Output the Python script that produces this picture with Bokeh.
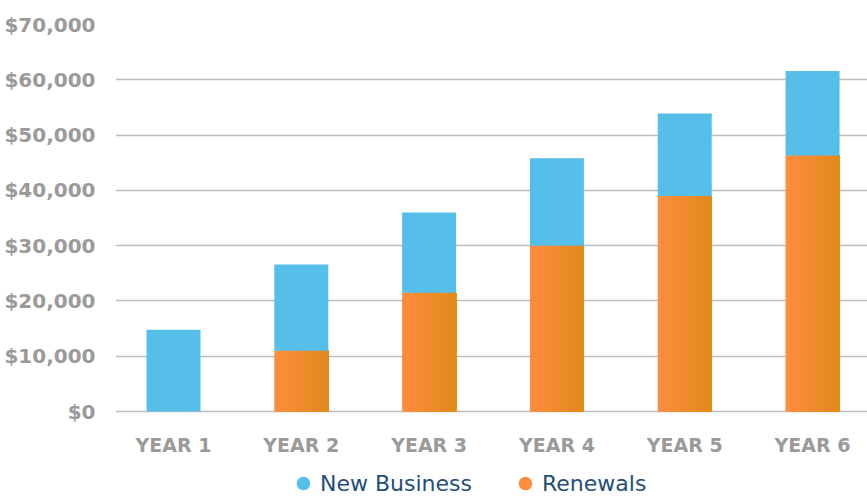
from bokeh.plotting import figure
from bokeh.models import Legend, LegendItem, Range1d, FixedTicker, NumeralTickFormatter, ColumnDataSource
from bokeh.core.properties import value
from bokeh.embed import file_html
from bokeh.resources import INLINE

years = ["YEAR 1", "YEAR 2", "YEAR 3", "YEAR 4", "YEAR 5", "YEAR 6"]
renewals = [0, 11000, 21500, 30000, 39000, 46300]
new_business = [14800, 15600, 14500, 15800, 14900, 15300]
y_ticks = [0, 10000, 20000, 30000, 40000, 50000, 60000, 70000]

BLUE = "#55BFE9"
ORANGE_L = (0xFF, 0x8C, 0x3E)
ORANGE_R = (0xE0, 0x8A, 0x1C)
GRAY_TXT = "#9A9A9A"
FONT = "DejaVu Sans"

xs = list(range(1, len(years) + 1))
bar_w = 0.4225

p = figure(frame_width=752, frame_height=472, output_backend="svg", toolbar_location=None,
           x_range=Range1d(0.5462, 6.430), y_range=Range1d(-15374, 70000),
           min_border_left=115, min_border_top=24, min_border_right=0, min_border_bottom=0)
p.outline_line_color = None
p.background_fill_color = "white"
p.border_fill_color = "white"

# gridlines (the $0 line doubles as the baseline)
p.xgrid.grid_line_color = None
p.ygrid.grid_line_color = "#BDBDBD"
p.ygrid.grid_line_width = 1.4
p.ygrid.ticker = FixedTicker(ticks=y_ticks)

# renewals bars: overlapping slices from each left edge to the bar's right edge -> horizontal gradient
n = 30
ql, qr, qt, qc = [], [], [], []
for x, r in zip(xs, renewals):
    if r <= 0:
        continue
    for i in range(n):
        t = (i + 0.5) / n
        c = tuple(int(round(a + (b - a) * t)) for a, b in zip(ORANGE_L, ORANGE_R))
        ql.append(x - bar_w / 2 + bar_w * i / n)
        qr.append(x + bar_w / 2)
        qt.append(r)
        qc.append("#%02x%02x%02x" % c)
p.quad(left=ql, right=qr, top=qt, bottom=0, fill_color=qc, line_color=None)

bottoms = renewals
tops = [r + nb for r, nb in zip(renewals, new_business)]
p.vbar(x=xs, bottom=bottoms, top=tops, width=bar_w, fill_color=BLUE, line_color=None)

# category labels under the baseline
lab_src = ColumnDataSource(dict(x=xs, y=[0] * len(xs), t=years))
p.text(x="x", y="y", text="t", source=lab_src, y_offset=33,
       text_align="center", text_baseline="middle",
       text_font=value(FONT), text_font_style="bold", text_font_size="19px",
       text_color=GRAY_TXT)

# legend renderers (off-screen point so nothing shows in the frame)
nb_r = p.scatter(x=[-10], y=[-100000], size=14, fill_color=BLUE, line_color=None)
rn_r = p.scatter(x=[-10], y=[-100000], size=14, fill_color="#FF8C3E", line_color=None)
legend = Legend(items=[LegendItem(label="New Business", renderers=[nb_r]),
                       LegendItem(label="Renewals", renderers=[rn_r])],
                orientation="horizontal", location=(171, -4),
                label_text_font=FONT, label_text_font_size="22px",
                label_text_color="#1F4E79", glyph_width=34, glyph_height=34,
                label_standoff=0, spacing=36, border_line_color=None,
                background_fill_alpha=0, padding=0, margin=0)
p.add_layout(legend, "center")

# axes
p.xaxis.visible = False
p.yaxis.ticker = FixedTicker(ticks=y_ticks)
p.yaxis.formatter = NumeralTickFormatter(format="$0,0")
p.yaxis.axis_line_color = None
p.yaxis.major_tick_line_color = None
p.yaxis.minor_tick_line_color = None
p.yaxis.major_label_text_font = FONT
p.yaxis.major_label_text_font_style = "bold"
p.yaxis.major_label_text_font_size = "20px"
p.yaxis.major_label_text_color = GRAY_TXT
p.yaxis.major_label_standoff = 14

open("out.html", "w").write(file_html(p, INLINE))
